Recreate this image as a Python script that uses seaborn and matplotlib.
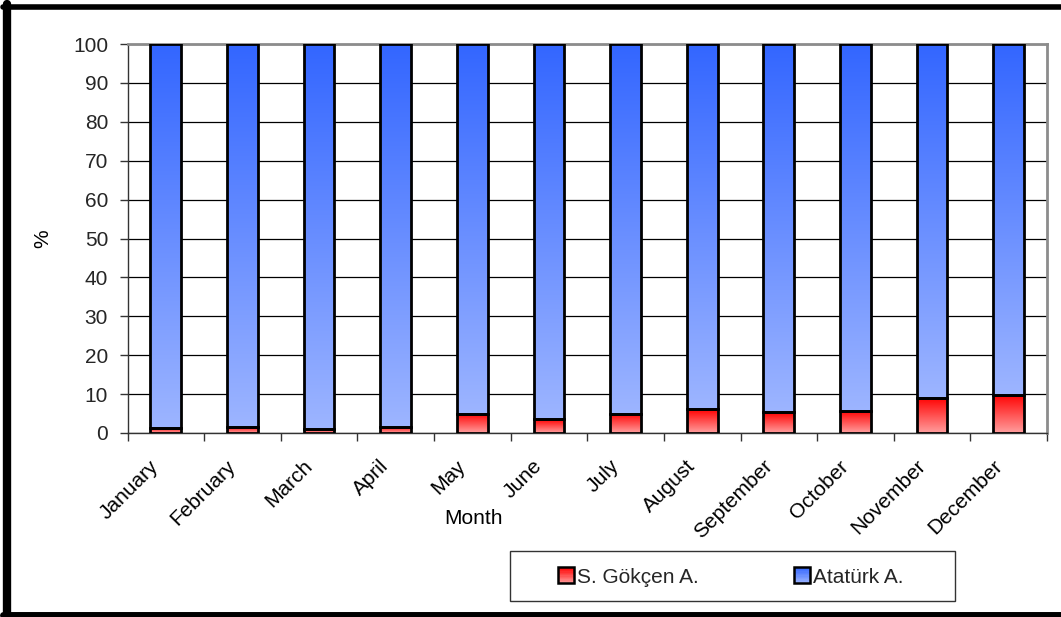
import numpy as np
import pandas as pd
import matplotlib
matplotlib.use("Agg")
import matplotlib.pyplot as plt
import matplotlib.transforms as mtransforms
from matplotlib.colors import LinearSegmentedColormap
from matplotlib.patches import Rectangle
from matplotlib.lines import Line2D
from matplotlib.legend_handler import HandlerBase
import seaborn as sns

# Monthly share of passengers (%) by airport
months = ["January", "February", "March", "April", "May", "June",
          "July", "August", "September", "October", "November", "December"]
gokcen = [1.3, 1.6, 1.1, 1.6, 5.0, 3.5, 5.0, 6.1, 5.3, 5.7, 9.0, 9.8]
ataturk = [98.7, 98.4, 98.9, 98.4, 95.0, 96.5, 95.0, 93.9, 94.7, 94.3, 91.0, 90.2]
series_names = ["S. Gökçen A.", "Atatürk A."]
y_ticks = list(range(0, 101, 10))

RED_TOP, RED_BOTTOM = "#FF0000", "#FF9E9E"
BLUE_TOP, BLUE_BOTTOM = "#3366FF", "#9DB5FF"
FS = 15

sns.set_theme(style="white")
plt.rcParams["font.family"] = ["Liberation Sans", "DejaVu Sans"]
plt.rcParams["font.size"] = FS

W, H = 1061, 617
fig = plt.figure(figsize=(W / 100, H / 100), dpi=100)
fig.patch.set_facecolor("white")
ax = fig.add_axes([127.5 / W, 1 - 433 / H, (1047 - 127.5) / W, (433 - 44) / H])

df = pd.DataFrame({"Month": months, "Gokcen": gokcen, "Ataturk": ataturk})
df["Total"] = df["Gokcen"] + df["Ataturk"]

# stacked bars: full-height bar first, then the lower segment on top of it
sns.barplot(data=df, x="Month", y="Total", color=BLUE_TOP, width=0.4,
            edgecolor="black", linewidth=2.0, saturation=1, ax=ax, zorder=3)
sns.barplot(data=df, x="Month", y="Gokcen", color=RED_TOP, width=0.4,
            edgecolor="black", linewidth=2.0, saturation=1, ax=ax, zorder=3)

n = len(months)
blue_patches = ax.patches[:n]
red_patches = ax.patches[n:2 * n]
for p, low, up in zip(blue_patches, df["Gokcen"], df["Ataturk"]):
    p.set_y(low)
    p.set_height(up)

grad = np.linspace(0, 1, 256).reshape(-1, 1)


def fill_gradient(patch, top, bottom):
    x0, y0 = patch.get_x(), patch.get_y()
    w, h = patch.get_width(), patch.get_height()
    cmap = LinearSegmentedColormap.from_list("g", [bottom, top])
    im = ax.imshow(grad, cmap=cmap, origin="lower", aspect="auto",
                   extent=[x0, x0 + w, y0, y0 + h], zorder=2.9,
                   interpolation="bilinear")
    im.set_clip_path(patch)
    patch.set_facecolor("none")


for p in blue_patches:
    fill_gradient(p, BLUE_TOP, BLUE_BOTTOM)
for p in red_patches:
    fill_gradient(p, RED_TOP, RED_BOTTOM)

ax.set_xlim(-0.5, n - 0.5)
ax.set_ylim(0, 100)
ax.set_yticks(y_ticks)
ax.set_yticklabels([str(v) for v in y_ticks])
ax.yaxis.grid(True, color="black", linewidth=0.9)
ax.set_axisbelow(True)

# category labels at centres, tick marks between categories
ax.set_xticks(range(n))
ax.set_xticklabels(months, rotation=45, ha="right")
ax.set_xticks(np.arange(-0.5, n, 1.0), minor=True)
ax.tick_params(axis="x", which="major", length=0, pad=17, labelsize=FS,
               colors="black")
ax.tick_params(axis="x", which="minor", length=6, width=1, color="#333333",
               bottom=True, direction="out")
ax.tick_params(axis="y", length=6, width=1, color="#333333", pad=8,
               labelsize=FS, left=True, direction="out")
offset = mtransforms.ScaledTranslation(-3 / 100, 0, fig.dpi_scale_trans)
for lbl in ax.get_xticklabels():
    lbl.set_transform(lbl.get_transform() + offset)

for side in ["top", "right"]:
    ax.spines[side].set_color("#8C8C8C")
    ax.spines[side].set_linewidth(2)
for side in ["left", "bottom"]:
    ax.spines[side].set_color("#333333")
    ax.spines[side].set_linewidth(1)

ax.set_xlabel("Month", fontsize=FS, color="black")
ax.xaxis.set_label_coords((473 - 127.5) / 919.5, -0.196)
ax.set_ylabel("%", fontsize=FS, color="black")
ax.yaxis.label.set_va("center")
ax.yaxis.set_label_coords((43 - 127.5) / 919.5, 0.5)


# legend with gradient swatches
class GradientHandler(HandlerBase):
    def __init__(self, top, bottom):
        super().__init__()
        self.top, self.bottom = top, bottom

    def create_artists(self, legend, orig_handle, xdescent, ydescent,
                       width, height, fontsize, trans):
        side = min(width, height)
        x0, y0 = -xdescent, -ydescent + (height - side) / 2
        cmap = LinearSegmentedColormap.from_list("g", [self.bottom, self.top])
        arts = []
        steps = 12
        for i in range(steps):
            arts.append(Rectangle((x0, y0 + side * i / steps), side, side / steps,
                                  facecolor=cmap((i + 0.5) / steps),
                                  edgecolor="none", transform=trans))
        arts.append(Rectangle((x0, y0), side, side, facecolor="none",
                              edgecolor="black", linewidth=1.8, transform=trans))
        return arts


h_red = Rectangle((0, 0), 1, 1)
h_blue = Rectangle((0, 0), 1, 1)
fig.legend([h_red, h_blue], series_names, ncol=2, frameon=False,
           loc="center left", bbox_to_anchor=(558 / W, 1 - 577 / H),
           borderpad=0, borderaxespad=0, handlelength=0.8, handleheight=0.8,
           handletextpad=0.12, columnspacing=4.55, fontsize=FS,
           handler_map={h_red: GradientHandler(RED_TOP, RED_BOTTOM),
                        h_blue: GradientHandler(BLUE_TOP, BLUE_BOTTOM)})
fig.add_artist(Rectangle((510 / W, 1 - 601 / H), (955 - 510) / W, 50 / H,
                         transform=fig.transFigure, facecolor="none",
                         edgecolor="#333333", linewidth=1))

# thick outer frame
fig.add_artist(Line2D([7 / W, 7 / W], [1 - 4 / H, 1 - 617 / H],
                      transform=fig.transFigure, color="black", linewidth=6))
fig.add_artist(Line2D([3 / W, 1.0], [1 - 6.5 / H, 1 - 6.5 / H],
                      transform=fig.transFigure, color="black", linewidth=4))
fig.add_artist(Line2D([3 / W, 1.0], [1 - 614.5 / H, 1 - 614.5 / H],
                      transform=fig.transFigure, color="black", linewidth=5))

fig.savefig("out.png", dpi=100, facecolor="white")
